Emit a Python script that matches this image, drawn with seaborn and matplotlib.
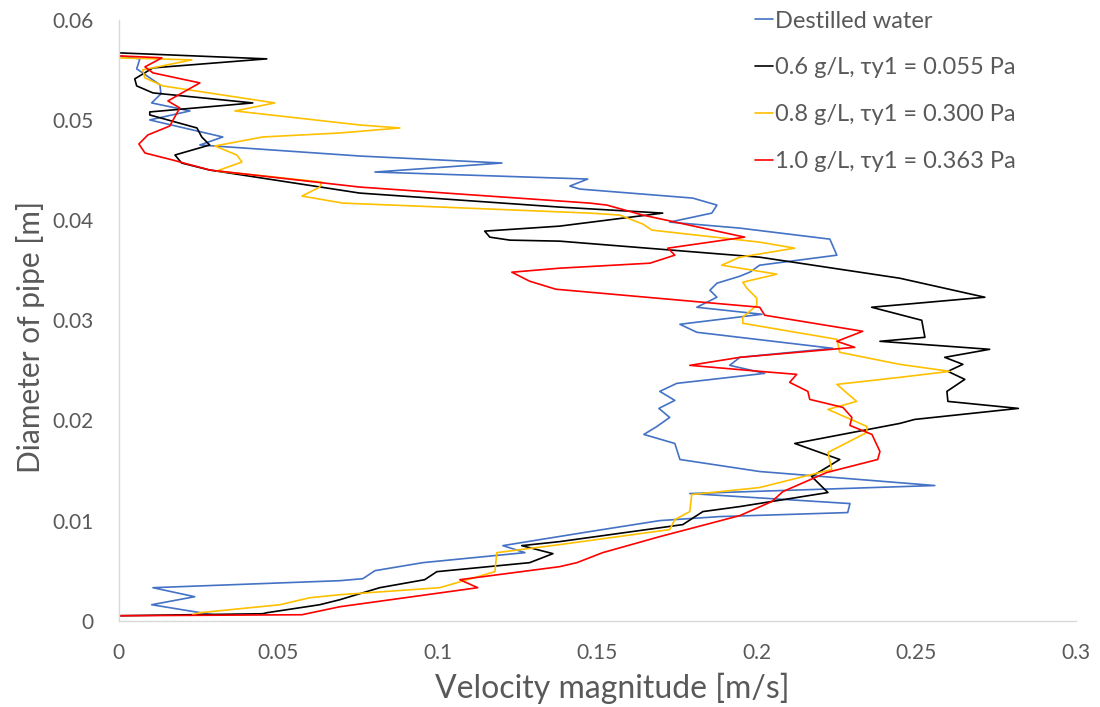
import matplotlib
matplotlib.use("Agg")
import matplotlib.pyplot as plt
import seaborn as sns
import pandas as pd

# Velocity profiles across the pipe diameter (velocity [m/s], position [m])
water_v = [0.0000, 0.0066, 0.0056, 0.0075, 0.0129, 0.0132, 0.0103, 0.0223, 0.0097, 0.0326,
           0.0254, 0.0755, 0.1201, 0.0803, 0.1470, 0.1414, 0.1445, 0.1799, 0.1875, 0.1859,
           0.1727, 0.1947, 0.2229, 0.2251, 0.2009, 0.1978, 0.1947, 0.1875, 0.1853, 0.1875,
           0.1812, 0.2016, 0.1759, 0.1812, 0.2238, 0.1947, 0.1915, 0.2025, 0.1749, 0.1696,
           0.1743, 0.1693, 0.1727, 0.1687, 0.1646, 0.1743, 0.1759, 0.2009, 0.2558, 0.1790,
           0.2292, 0.2285, 0.1884, 0.1696, 0.1476, 0.1204, 0.1273, 0.0953, 0.0803, 0.0765,
           0.0693, 0.0107, 0.0238, 0.0103, 0.0295]
water_d = [0.0564, 0.0561, 0.0551, 0.0547, 0.0535, 0.0526, 0.0517, 0.0509, 0.0500, 0.0483,
           0.0475, 0.0464, 0.0457, 0.0448, 0.0441, 0.0434, 0.0431, 0.0422, 0.0415, 0.0407,
           0.0398, 0.0392, 0.0381, 0.0365, 0.0355, 0.0348, 0.0344, 0.0337, 0.0330, 0.0323,
           0.0313, 0.0306, 0.0296, 0.0288, 0.0272, 0.0263, 0.0255, 0.0247, 0.0237, 0.0229,
           0.0220, 0.0212, 0.0203, 0.0194, 0.0186, 0.0177, 0.0161, 0.0149, 0.0135, 0.0127,
           0.0117, 0.0108, 0.0104, 0.0100, 0.0089, 0.0075, 0.0068, 0.0058, 0.0050, 0.0042,
           0.0040, 0.0033, 0.0024, 0.0016, 0.0006]

c06_v = [0.0000, 0.0464, 0.0107, 0.0050, 0.0056, 0.0107, 0.0420, 0.0097, 0.0097, 0.0245,
         0.0260, 0.0285, 0.0176, 0.0197, 0.0285, 0.0755, 0.1382, 0.1705, 0.1382, 0.1147,
         0.1163, 0.1226, 0.1382, 0.2009, 0.2448, 0.2715, 0.2360, 0.2517, 0.2527, 0.2386,
         0.2730, 0.2589, 0.2646, 0.2599, 0.2652, 0.2596, 0.2599, 0.2820, 0.2495, 0.2448,
         0.2119, 0.2260, 0.2172, 0.2223, 0.1947, 0.1831, 0.1768, 0.1382, 0.1263, 0.1361,
         0.1288, 0.0997, 0.0959, 0.0818, 0.0693, 0.0630, 0.0464, 0.0451, 0.0000]
c06_d = [0.0567, 0.0561, 0.0552, 0.0541, 0.0534, 0.0527, 0.0517, 0.0508, 0.0505, 0.0492,
         0.0483, 0.0475, 0.0465, 0.0457, 0.0450, 0.0427, 0.0413, 0.0407, 0.0394, 0.0389,
         0.0383, 0.0380, 0.0379, 0.0363, 0.0342, 0.0323, 0.0313, 0.0300, 0.0283, 0.0279,
         0.0271, 0.0263, 0.0256, 0.0249, 0.0241, 0.0229, 0.0219, 0.0212, 0.0201, 0.0197,
         0.0177, 0.0161, 0.0144, 0.0128, 0.0114, 0.0109, 0.0096, 0.0079, 0.0075, 0.0067,
         0.0058, 0.0049, 0.0041, 0.0033, 0.0021, 0.0016, 0.0008, 0.0007, 0.0005]

c08_v = [0.0000, 0.0229, 0.0075, 0.0082, 0.0138, 0.0489, 0.0364, 0.0755, 0.0881, 0.0693,
         0.0451, 0.0301, 0.0370, 0.0386, 0.0307, 0.0636, 0.0630, 0.0574, 0.0702, 0.1476,
         0.1571, 0.1643, 0.1671, 0.2009, 0.2119, 0.1947, 0.1890, 0.2063, 0.1956, 0.1969,
         0.2000, 0.2000, 0.1956, 0.1956, 0.2251, 0.2260, 0.2448, 0.2605, 0.2448, 0.2251,
         0.2313, 0.2223, 0.2345, 0.2345, 0.2223, 0.2235, 0.2009, 0.1796, 0.1790, 0.1743,
         0.1727, 0.1382, 0.1185, 0.1179, 0.1006, 0.0693, 0.0599, 0.0505, 0.0254, 0.0232]
c08_d = [0.0562, 0.0560, 0.0550, 0.0542, 0.0534, 0.0517, 0.0509, 0.0495, 0.0492, 0.0487,
         0.0483, 0.0474, 0.0465, 0.0458, 0.0449, 0.0438, 0.0433, 0.0424, 0.0417, 0.0407,
         0.0405, 0.0396, 0.0390, 0.0378, 0.0372, 0.0363, 0.0355, 0.0346, 0.0338, 0.0332,
         0.0322, 0.0315, 0.0303, 0.0297, 0.0281, 0.0268, 0.0256, 0.0249, 0.0243, 0.0236,
         0.0219, 0.0211, 0.0194, 0.0188, 0.0168, 0.0151, 0.0133, 0.0126, 0.0109, 0.0101,
         0.0091, 0.0076, 0.0068, 0.0049, 0.0033, 0.0026, 0.0023, 0.0016, 0.0008, 0.0006]

c10_v = [0.0000, 0.0000, 0.0135, 0.0082, 0.0107, 0.0254, 0.0154, 0.0191, 0.0160, 0.0091,
         0.0063, 0.0082, 0.0169, 0.0285, 0.0755, 0.1476, 0.1530, 0.1643, 0.1962, 0.1721,
         0.1743, 0.1665, 0.1382, 0.1232, 0.1288, 0.1370, 0.2009, 0.2025, 0.2332, 0.2251,
         0.2307, 0.1947, 0.1790, 0.2009, 0.2125, 0.2103, 0.2160, 0.2166, 0.2270, 0.2298,
         0.2292, 0.2361, 0.2386, 0.2379, 0.2219, 0.2082, 0.2047, 0.1947, 0.1696, 0.1517,
         0.1436, 0.1382, 0.1069, 0.1125, 0.0693, 0.0574, 0.0000, 0.0000]
c10_d = [0.0568, 0.0564, 0.0562, 0.0553, 0.0547, 0.0537, 0.0519, 0.0512, 0.0494, 0.0485,
         0.0476, 0.0467, 0.0460, 0.0450, 0.0433, 0.0417, 0.0415, 0.0405, 0.0383, 0.0372,
         0.0365, 0.0357, 0.0352, 0.0348, 0.0339, 0.0331, 0.0313, 0.0305, 0.0289, 0.0279,
         0.0273, 0.0263, 0.0255, 0.0249, 0.0246, 0.0238, 0.0229, 0.0221, 0.0213, 0.0203,
         0.0195, 0.0186, 0.0169, 0.0161, 0.0148, 0.0129, 0.0119, 0.0105, 0.0084, 0.0068,
         0.0058, 0.0054, 0.0041, 0.0033, 0.0014, 0.0006, 0.0005, 0.0000]

series_labels = ["Destilled water",
                 "0.6 g/L, \u03c4y1 = 0.055 Pa",
                 "0.8 g/L, \u03c4y1 = 0.300 Pa",
                 "1.0 g/L, \u03c4y1 = 0.363 Pa"]
series_colors = ["#4472C4", "#000000", "#FFC000", "#FF0000"]

x_ticks = [0, 0.05, 0.1, 0.15, 0.2, 0.25, 0.3]
x_tick_labels = ["0", "0.05", "0.1", "0.15", "0.2", "0.25", "0.3"]
y_ticks = [0, 0.01, 0.02, 0.03, 0.04, 0.05, 0.06]
y_tick_labels = ["0", "0.01", "0.02", "0.03", "0.04", "0.05", "0.06"]

frames = []
for lab, v, d in zip(series_labels,
                     [water_v, c06_v, c08_v, c10_v],
                     [water_d, c06_d, c08_d, c10_d]):
    f = pd.DataFrame({"velocity": v, "diameter": d})
    f["series"] = lab
    frames.append(f)
df = pd.concat(frames, ignore_index=True)

sns.set_theme(style="white")
plt.rcParams["font.family"] = ["Lato", "DejaVu Sans"]

fig = plt.figure(figsize=(11, 7.07), dpi=100)
ax = fig.add_axes([0.108, 0.122, 0.870, 0.850])

sns.lineplot(data=df, x="velocity", y="diameter", hue="series",
             hue_order=series_labels, palette=series_colors,
             sort=False, estimator=None, units="series", linewidth=1.2, ax=ax)

ax.set_xlim(0, 0.3)
ax.set_ylim(0, 0.06)
ax.set_xticks(x_ticks)
ax.set_xticklabels(x_tick_labels)
ax.set_yticks(y_ticks)
ax.set_yticklabels(y_tick_labels)
ax.tick_params(axis="both", length=0, labelsize=15, colors="#595959")
ax.tick_params(axis="x", pad=16)
ax.tick_params(axis="y", pad=18)

for side in ["top", "right"]:
    ax.spines[side].set_visible(False)
for side in ["left", "bottom"]:
    ax.spines[side].set_color("#D9D9D9")
    ax.spines[side].set_linewidth(1.0)

ax.set_xlabel("Velocity magnitude [m/s]", fontsize=23, color="#595959")
ax.set_ylabel("Diameter of pipe [m]", fontsize=21.5, color="#595959")
ax.xaxis.set_label_coords(0.516, -0.086)
ax.yaxis.set_label_coords(-0.077, 0.473)

leg = ax.legend(loc="upper left", bbox_to_anchor=(0.655, 1.031), frameon=False,
                fontsize=17, handlelength=0.75, handletextpad=0.1,
                labelspacing=1.09, borderaxespad=0)
for t in leg.get_texts():
    t.set_color("#595959")
for h in leg.get_lines():
    h.set_linewidth(1.2)

fig.savefig("out.png", dpi=100)
